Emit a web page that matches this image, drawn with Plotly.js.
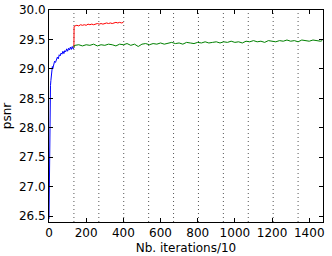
<!DOCTYPE html>
<html><head><meta charset="utf-8">
<script src="https://cdn.plot.ly/plotly-3.0.1.min.js"></script>
<style>html,body{margin:0;padding:0;background:#fff}#c{width:332px;height:256px}</style>
</head><body><div id="c"></div>
<script>
const blueX = [0,1,2,3,4,5,6,8,10,12,15,18,20,25,30,35,40,45,50,55,60,65,70,75,80,85,90,95,100,105,110,115,120,125,130,134];
const blueY = [26.45,26.9,27.6,28.0,28.3,28.5,28.6,28.72,28.8,28.9,28.98,29.04,29.0,29.1,29.13,29.11,29.18,29.2,29.17,29.24,29.22,29.27,29.25,29.3,29.26,29.31,29.29,29.34,29.3,29.35,29.32,29.37,29.33,29.38,29.34,29.36];
const redX = [134,135,140,150,160,170,180,190,200,210,220,230,240,250,260,270,280,290,300,310,320,330,340,350,360,370,380,390,400];
const redY = [29.36,29.72,29.73,29.74,29.73,29.75,29.74,29.75,29.74,29.76,29.75,29.76,29.75,29.76,29.77,29.76,29.77,29.76,29.77,29.78,29.77,29.78,29.77,29.78,29.79,29.78,29.79,29.78,29.79];
const greenX = [134,135,140,160,180,200,220,240,260,280,300,320,340,360,380,400,420,440,460,480,500,520,540,560,580,600,620,640,660,680,700,720,740,760,780,800,820,840,860,880,900,920,940,960,980,1000,1020,1040,1060,1080,1100,1120,1140,1160,1180,1200,1220,1240,1260,1280,1300,1320,1340,1360,1380,1400,1420,1440,1460,1470];
const greenY = [29.36,29.39,29.40,29.41,29.39,29.41,29.40,29.42,29.39,29.41,29.40,29.42,29.41,29.39,29.42,29.41,29.43,29.40,29.42,29.38,29.42,29.43,29.41,29.43,29.42,29.44,29.42,29.43,29.45,29.43,29.44,29.42,29.45,29.44,29.43,29.45,29.44,29.46,29.44,29.45,29.46,29.44,29.46,29.45,29.47,29.45,29.46,29.44,29.47,29.46,29.48,29.46,29.47,29.45,29.48,29.47,29.46,29.48,29.47,29.49,29.47,29.48,29.46,29.49,29.48,29.47,29.49,29.48,29.47,29.48];
const stageBounds = [134,268,402,536,670,804,938,1072,1206,1340];
const xTicks = [0,200,400,600,800,1000,1200,1400];
const yTicks = [26.5,27.0,27.5,28.0,28.5,29.0,29.5,30.0];

const traces = [
  {x: blueX, y: blueY, mode: 'lines', line: {color: '#0000ff', width: 1}},
  {x: redX, y: redY, mode: 'lines', line: {color: '#ff0000', width: 1}},
  {x: greenX, y: greenY, mode: 'lines', line: {color: '#008000', width: 1}}
];
const shapes = stageBounds.map(v => ({type: 'line', xref: 'x', yref: 'paper', x0: v, x1: v, y0: 0, y1: 1,
  line: {color: '#555', width: 1, dash: '1px,3px'}, layer: 'below'}));
const axisCommon = {showline: true, linecolor: '#000', linewidth: 1, mirror: 'allticks', ticks: 'inside',
  ticklen: 4, tickcolor: '#000', showgrid: false, zeroline: false, tickfont: {size: 12, color: '#000'}};
const layout = {
  width: 332, height: 256, margin: {l: 49, r: 9, t: 10, b: 34},
  paper_bgcolor: '#fff', plot_bgcolor: '#fff', showlegend: false,
  font: {family: 'DejaVu Sans', size: 12, color: '#000'},
  xaxis: Object.assign({}, axisCommon, {range: [0, 1474], tickvals: xTicks, ticktext: xTicks.map(String),
    title: {text: 'Nb. iterations/10', font: {size: 12}, standoff: 4}}),
  yaxis: Object.assign({}, axisCommon, {range: [26.4, 30.0], tickvals: yTicks, ticktext: yTicks.map(v => v.toFixed(1)),
    title: {text: 'psnr', font: {size: 12}, standoff: 8}}),
  shapes: shapes
};
Plotly.newPlot('c', traces, layout, {staticPlot: true, displayModeBar: false});
</script></body></html>
